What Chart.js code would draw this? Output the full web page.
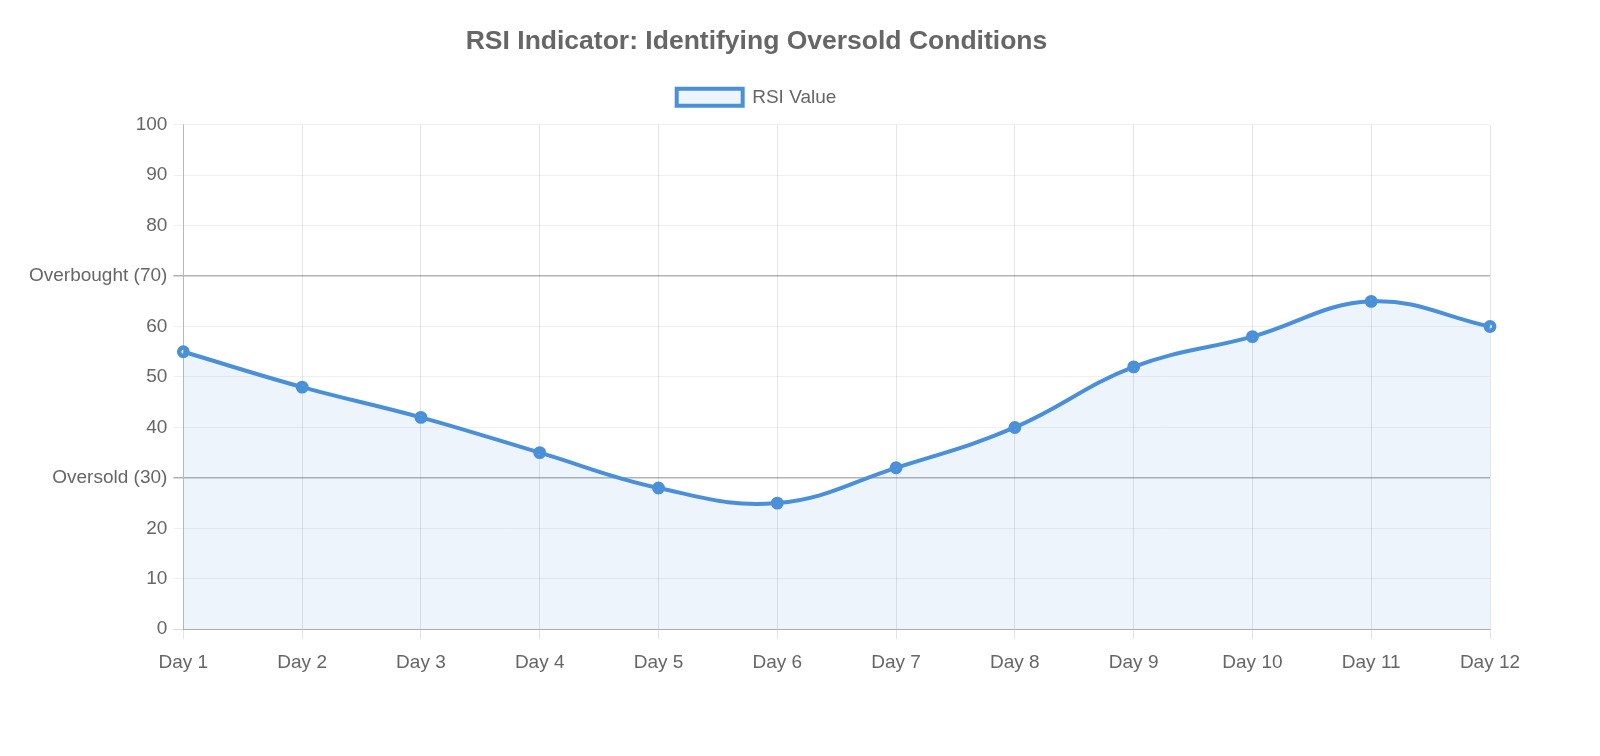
<!DOCTYPE html>
<html>
<head>
<meta charset="utf-8">
<script src="https://cdn.jsdelivr.net/npm/chart.js@4.4.0/dist/chart.umd.min.js"></script>
<style>
  html, body { margin: 0; padding: 0; background: #fff; }
  #wrap { width: 1600px; height: 756px; }
</style>
</head>
<body>
<div id="wrap"><canvas id="c" width="1600" height="756"></canvas></div>
<script>
const chartTitle = "RSI Indicator: Identifying Oversold Conditions";
const seriesLabel = "RSI Value";
const days = ["Day 1","Day 2","Day 3","Day 4","Day 5","Day 6","Day 7","Day 8","Day 9","Day 10","Day 11","Day 12"];
const rsiValues = [55, 48, 42, 35, 28, 25, 32, 40, 52, 58, 65, 60];
const yMin = 0, yMax = 100, yStep = 10;
const specialTickLabels = { 30: "Oversold (30)", 70: "Overbought (70)" };

const fontFamily = "'Helvetica Neue', Helvetica, Arial, 'Liberation Sans', sans-serif";
Chart.defaults.font.family = fontFamily;
Chart.defaults.color = "#666";

const chart = new Chart(document.getElementById('c'), {
  type: 'line',
  data: {
    labels: days,
    datasets: [{
      label: seriesLabel,
      data: rsiValues,
      borderColor: 'rgb(74,144,217)',
      backgroundColor: 'rgba(74,144,226,0.1)',
      pointBorderColor: 'rgb(74,144,217)',
      pointBorderWidth: 4.5,
      pointRadius: 4.2,
      borderWidth: 4,
      tension: 0.4,
      fill: true
    }]
  },
  options: {
    responsive: false,
    animation: false,
    devicePixelRatio: 1,
    layout: { padding: { left: 23, right: 110, top: 16, bottom: 70 } },
    plugins: {
      title: {
        display: true,
        text: chartTitle,
        color: '#666',
        font: { size: 26.5, weight: 'bold' },
        padding: { top: 10, bottom: 9 }
      },
      legend: {
        display: true,
        labels: {
          boxWidth: 66,
          boxHeight: 17,
          color: '#666',
          font: { size: 19 },
          padding: 21
        }
      },
      tooltip: { enabled: false }
    },
    scales: {
      x: {
        offset: false,
        grid: {
          color: 'rgba(0,0,0,0.1)',
          tickLength: 10,
          drawTicks: true
        },
        border: { color: 'rgba(0,0,0,0.2)' },
        ticks: { color: '#666', font: { size: 19 }, padding: 12, maxRotation: 0 }
      },
      y: {
        min: yMin,
        max: yMax,
        grid: {
          color: (ctx) => {
            const v = ctx.tick && ctx.tick.value;
            if (v === 30 || v === 70) return 'rgba(0,0,0,0.3)';
            if (v === 0) return 'rgba(0,0,0,0.15)';
            return 'rgba(0,0,0,0.06)';
          },
          lineWidth: (ctx) => {
            const v = ctx.tick && ctx.tick.value;
            return (v === 30 || v === 70) ? 1.5 : 1;
          },
          tickLength: 10
        },
        border: { color: 'rgba(0,0,0,0.2)' },
        ticks: {
          stepSize: yStep,
          color: '#666',
          font: { size: 19 },
          padding: 6,
          callback: (v) => specialTickLabels[v] !== undefined ? specialTickLabels[v] : v
        }
      }
    }
  }
});

// add a little extra space below the legend row
const lg = chart.legend;
if (lg) {
  const origFit = lg.fit.bind(lg);
  lg.fit = function () { origFit(); this.height += 8; };
  chart.update();
}
</script>
</body>
</html>
